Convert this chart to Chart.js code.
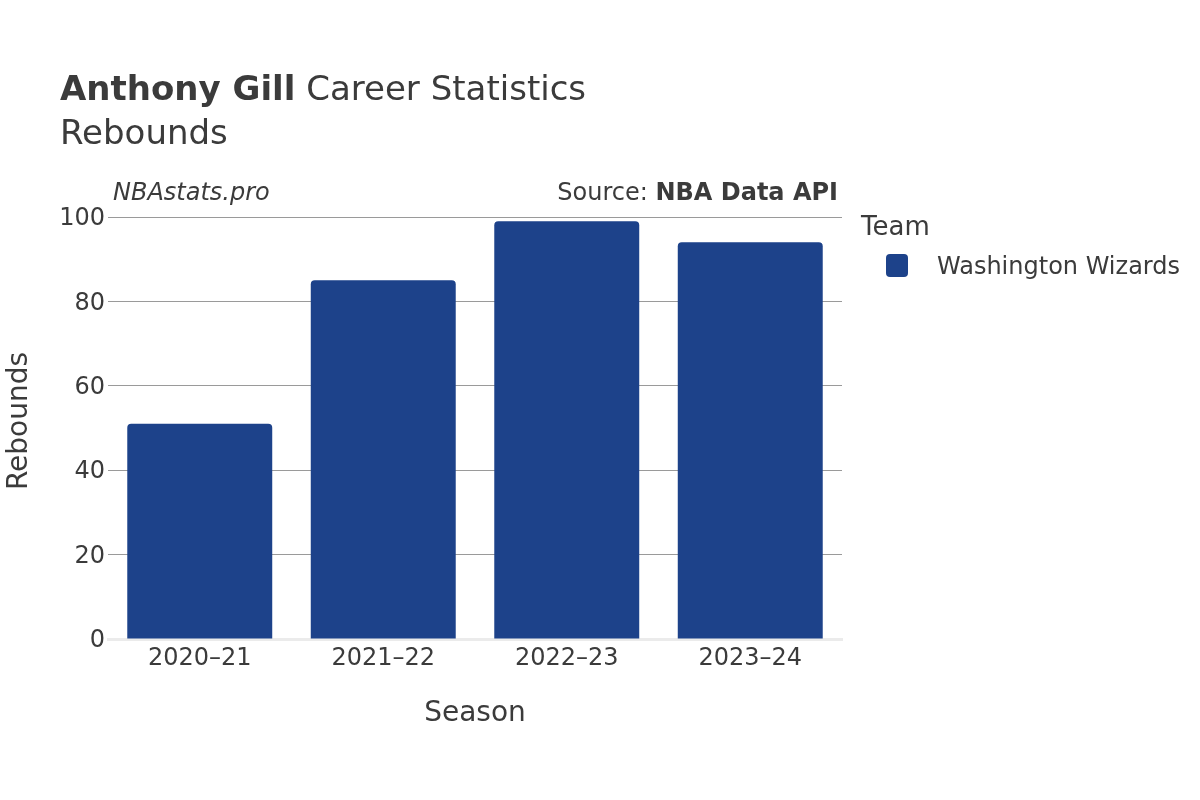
<!DOCTYPE html>
<html>

<head>
    <meta charset="utf-8" />
    <title>Anthony Gill Career Statistics - Rebounds</title>
    <style>
        body {
            margin: 0;
            background: #fff;
            font-family: "DejaVu Sans", sans-serif;
            color: #3b3b3b;
        }

        .wrap {
            position: relative;
            width: 1200px;
            height: 800px;
        }

        .wrap canvas {
            position: absolute;
            left: 0;
            top: 0;
        }

        .txt {
            position: absolute;
            line-height: 1;
            white-space: nowrap;
        }

        .swatch {
            position: absolute;
            left: 886px;
            top: 254px;
            width: 22px;
            height: 23px;
            border-radius: 4px;
            background: #1d428a;
        }
    </style>
    <script src="https://cdn.jsdelivr.net/npm/chart.js"></script>
</head>

<body>
    <div class="wrap">
        <canvas id="chart" width="1200" height="800"></canvas>
        <div class="txt" style="left:60px; top:71px; font-size:34px;"><b>Anthony Gill</b> Career Statistics</div>
        <div class="txt" style="left:60px; top:115px; font-size:34px;">Rebounds</div>
        <div class="txt" style="left:113px; top:180px; font-size:24px; font-style:italic;">NBAstats.pro</div>
        <div class="txt" style="right:362px; top:180px; font-size:24px;">Source: <b>NBA Data API</b></div>
        <div class="txt" style="left:861px; top:213px; font-size:26px;">Team</div>
        <div class="swatch"></div>
        <div class="txt" style="left:937px; top:254px; font-size:24px;">Washington Wizards</div>
    </div>

    <script>
        const seasons = ['2020–21', '2021–22', '2022–23', '2023–24'];
        const rebounds = [51, 85, 99, 94];
        const teamName = 'Washington Wizards';

        const textColor = '#3b3b3b';
        Chart.defaults.font.family = '"DejaVu Sans", sans-serif';

        const ctx = document.getElementById('chart').getContext('2d');
        new Chart(ctx, {
            type: 'bar',
            data: {
                labels: seasons,
                datasets: [{
                    label: teamName,
                    data: rebounds,
                    backgroundColor: '#1d428a',
                    borderRadius: 4,
                    borderSkipped: 'start',
                    barPercentage: 0.79,
                    categoryPercentage: 1
                }]
            },
            options: {
                responsive: false,
                animation: false,
                layout: { padding: { top: 217, right: 358, left: 0, bottom: 0 } },
                plugins: {
                    legend: { display: false },
                    tooltip: { enabled: false }
                },
                scales: {
                    x: {
                        grid: { display: false, drawTicks: false },
                        border: { display: true, color: '#ebebeb', width: 3 },
                        ticks: { font: { size: 24 }, color: textColor, padding: 5 },
                        title: {
                            display: true, text: 'Season', color: textColor,
                            font: { size: 28 }, padding: { top: 0, bottom: 69 }
                        },
                        afterFit: s => { s.height = 161; }
                    },
                    y: {
                        min: 0,
                        max: 100,
                        ticks: { stepSize: 20, padding: 3, labelOffset: 2, font: { size: 24 }, color: textColor },
                        grid: {
                            drawTicks: false,
                            color: c => c.tick && c.tick.value === 0 ? 'rgba(0,0,0,0)' : '#9a9a9a'
                        },
                        border: { display: false },
                        title: {
                            // leading en space nudges the centred title up to match the reference
                            display: true, text: '\u2002Rebounds', color: textColor,
                            font: { size: 28 }, padding: { top: 3, bottom: 0 }
                        },
                        afterFit: s => { s.width = 108; }
                    }
                }
            }
        });
    </script>
</body>

</html>
